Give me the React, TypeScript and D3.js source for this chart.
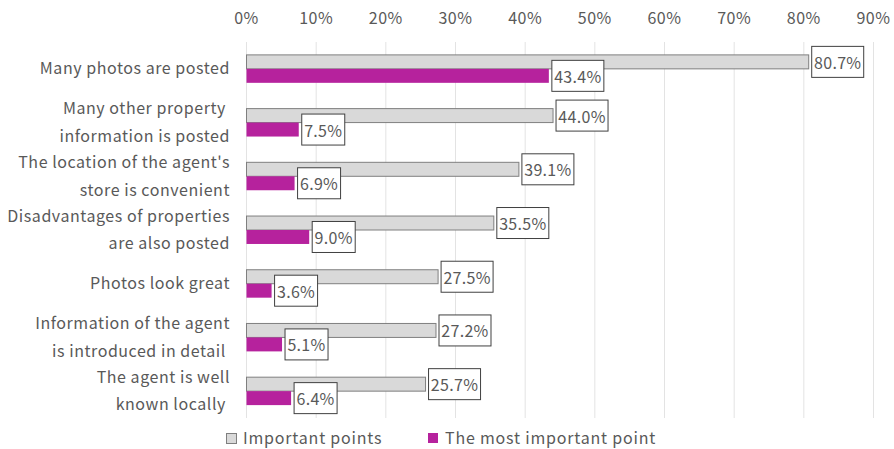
import React from "react";
import * as d3 from "d3";

const categories: string[][] = [
  ["Many photos are posted"],
  ["Many other property ", "information is posted"],
  ["The location of the agent's", "store is convenient"],
  ["Disadvantages of properties", "are also posted"],
  ["Photos look great"],
  ["Information of the agent", "is introduced in detail "],
  ["The agent is well", "known locally "],
];
const importantPoints = [80.7, 44.0, 39.1, 35.5, 27.5, 27.2, 25.7];
const mostImportant = [43.4, 7.5, 6.9, 9.0, 3.6, 5.1, 6.4];
const ticks = [0, 10, 20, 30, 40, 50, 60, 70, 80, 90];
const seriesNames = ["Important points", "The most important point"];

const W = 894;
const H = 449;
const FONT = "'Noto Sans CJK JP', 'Noto Sans', sans-serif";
const TEXT = "#595959";
const GREY = "#d9d9d9";
const GREY_STROKE = "#7f7f7f";
const PINK = "#b6229d";
const LS = 0.55;

export default function App() {
  const x = d3.scaleLinear().domain([0, 90]).range([246.5, 873.5]);
  const y = d3
    .scaleBand<number>()
    .domain(d3.range(categories.length))
    .range([42, 418])
    .paddingInner(0.48)
    .paddingOuter(0.24);
  const barH = y.bandwidth() / 2;
  const boxW = 52;
  const boxH = 31;

  return (
    <svg
      width={W}
      height={H}
      style={{ position: "absolute", left: 0, top: 0, background: "#fff" }}
      fontFamily={FONT}
    >
      {ticks.map((t) => (
        <g key={t}>
          <line x1={x(t)} x2={x(t)} y1={42} y2={418} stroke="#e3e3e3" strokeWidth={1} />
          <text x={x(t)} y={17} textAnchor="middle" dominantBaseline="central" fontSize={16} fill={TEXT} letterSpacing={0.5}>
            {t}%
          </text>
        </g>
      ))}
      {categories.map((lines, i) => {
        const y0 = y(i)!;
        const cy = y0 + barH;
        const ex1 = x(importantPoints[i]);
        const ex2 = x(mostImportant[i]);
        const w2 = boxW - (mostImportant[i] < 10 ? 9 : 0);
        return (
          <g key={i}>
            <rect x={x(0)} y={y0} width={ex1 - x(0)} height={barH} fill={GREY} stroke={GREY_STROKE} strokeWidth={1} />
            <rect x={x(0)} y={cy} width={ex2 - x(0)} height={barH} fill={PINK} />
            {lines.map((l, j) => (
              <text
                key={j}
                x={230}
                y={cy - 1.5 + (j - (lines.length - 1) / 2) * 27.5}
                textAnchor="end"
                dominantBaseline="central"
                fontSize={16}
                fill={TEXT}
                letterSpacing={LS}
                style={{ whiteSpace: "pre" }}
              >
                {l}
              </text>
            ))}
            <rect x={ex1 + 3} y={y0 + barH / 2 - boxH / 2} width={boxW} height={boxH} fill="#fff" stroke="#404040" strokeWidth={1} />
            <text x={ex1 + 3 + boxW / 2} y={y0 + barH / 2} textAnchor="middle" dominantBaseline="central" fontSize={16} fill={TEXT} letterSpacing={0.3}>
              {importantPoints[i].toFixed(1)}%
            </text>
            <rect x={ex2 + 3} y={cy + barH / 2 - boxH / 2} width={w2} height={boxH} fill="#fff" stroke="#404040" strokeWidth={1} />
            <text x={ex2 + 3 + w2 / 2} y={cy + barH / 2} textAnchor="middle" dominantBaseline="central" fontSize={16} fill={TEXT} letterSpacing={0.3}>
              {mostImportant[i].toFixed(1)}%
            </text>
          </g>
        );
      })}
      <rect x={226.5} y={433.5} width={10} height={10} fill={GREY} stroke={GREY_STROKE} />
      <text x={243} y={437} dominantBaseline="central" fontSize={16} fill={TEXT} letterSpacing={0.8}>
        {seriesNames[0]}
      </text>
      <rect x={428} y={433} width={10} height={10} fill={PINK} />
      <text x={445} y={437} dominantBaseline="central" fontSize={16} fill={TEXT} letterSpacing={0.8}>
        {seriesNames[1]}
      </text>
    </svg>
  );
}
